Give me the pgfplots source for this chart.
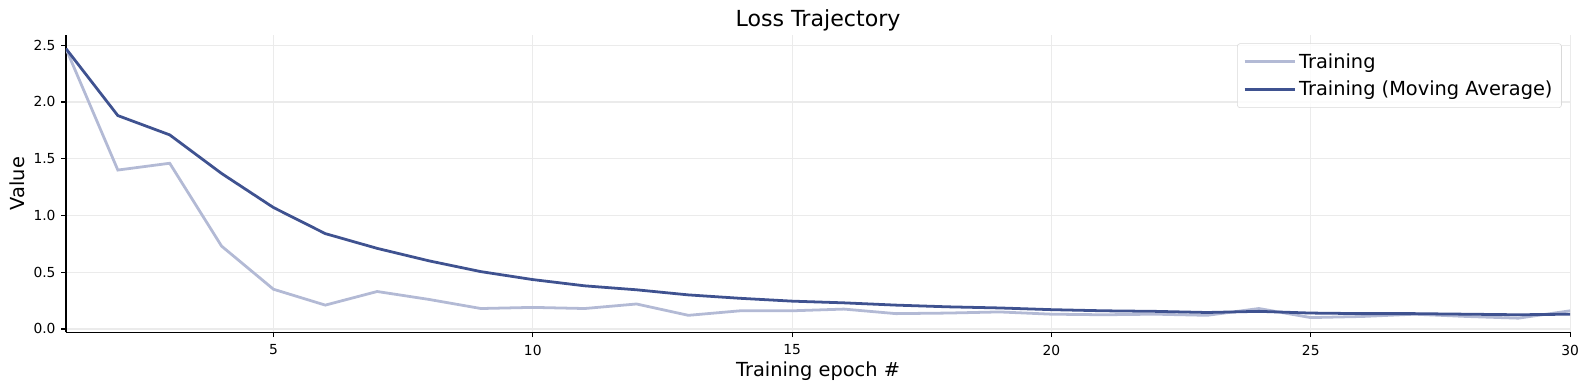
\documentclass[border=0pt]{standalone}
\usepackage{fontspec}
\setmainfont{DejaVu Sans}
\usepackage{pgfplots}
\pgfplotsset{compat=1.18}
\definecolor{darkb}{HTML}{3F5290}
\definecolor{lightb}{HTML}{B3BAD5}
\definecolor{gridc}{HTML}{EBEBEB}
\begin{document}
\begin{tikzpicture}
\useasboundingbox (-47.5bp,-41.5bp) rectangle (1096.6bp,239.3bp);
\begin{axis}[
  scale only axis, width=1083bp, height=214.1bp,
  xmin=1, xmax=30, ymin=-0.03, ymax=2.59,
  axis x line*=bottom, axis y line*=left,
  axis line style={-, line width=0.8bp},
  tick align=outside, major tick length=3.5bp, minor tick num=0,
  tick style={line width=0.8bp, black},
  xtick={5,10,15,20,25,30}, ytick={0,0.5,1,1.5,2,2.5},
  yticklabel style={/pgf/number format/fixed, /pgf/number format/fixed zerofill, /pgf/number format/precision=1, xshift=-0.5bp},
  /pgf/number format/assume math mode=true,
  ticklabel style={font=\fontsize{10}{12}\selectfont},
  xticklabel style={yshift=-2bp},
  grid=major, major grid style={gridc, line width=0.8bp},
  every axis title shift=0pt,
  title={Loss Trajectory},
  title style={at={(axis description cs:0.5,1.028)}, anchor=base, font=\fontsize{16}{19}\selectfont},
  xlabel={Training epoch \#},
  xlabel style={at={(axis description cs:0.5,-0.150)}, anchor=base, font=\fontsize{14}{17}\selectfont},
  ylabel={Value},
  ylabel style={at={(axis description cs:-0.0275,0.5)}, anchor=base, font=\fontsize{14}{17}\selectfont},
  legend style={at={(axis description cs:1,1)}, anchor=north east, xshift=-6bp, yshift=-6bp,
    draw=black!15, rounded corners=2bp, fill=white, fill opacity=0.8, text opacity=1,
    font=\fontsize{14}{17}\selectfont, cells={anchor=west}, inner xsep=4.5bp, inner ysep=5bp, row sep=4bp},
  legend image code/.code={\path (0bp,0bp) -- (36bp,0bp);\draw[#1, line width=2bp] (0bp,0bp) -- (30bp,0bp);},
]
\addplot[lightb, line width=2bp] coordinates {
(1,2.47)(2,1.40)(3,1.46)(4,0.73)(5,0.35)(6,0.21)(7,0.33)(8,0.26)(9,0.18)(10,0.19)
(11,0.18)(12,0.22)(13,0.12)(14,0.16)(15,0.16)(16,0.175)(17,0.135)(18,0.14)(19,0.15)(20,0.13)
(21,0.125)(22,0.13)(23,0.12)(24,0.18)(25,0.10)(26,0.11)(27,0.13)(28,0.11)(29,0.095)(30,0.16)};
\addlegendentry{Training}
\addplot[darkb, line width=2bp] coordinates {
(1,2.47)(2,1.88)(3,1.71)(4,1.37)(5,1.07)(6,0.84)(7,0.71)(8,0.60)(9,0.505)(10,0.435)
(11,0.38)(12,0.345)(13,0.30)(14,0.27)(15,0.245)(16,0.23)(17,0.21)(18,0.195)(19,0.185)(20,0.17)
(21,0.16)(22,0.155)(23,0.145)(24,0.155)(25,0.14)(26,0.135)(27,0.135)(28,0.13)(29,0.125)(30,0.13)};
\addlegendentry{Training (Moving Average)}
\end{axis}
\end{tikzpicture}
\end{document}
